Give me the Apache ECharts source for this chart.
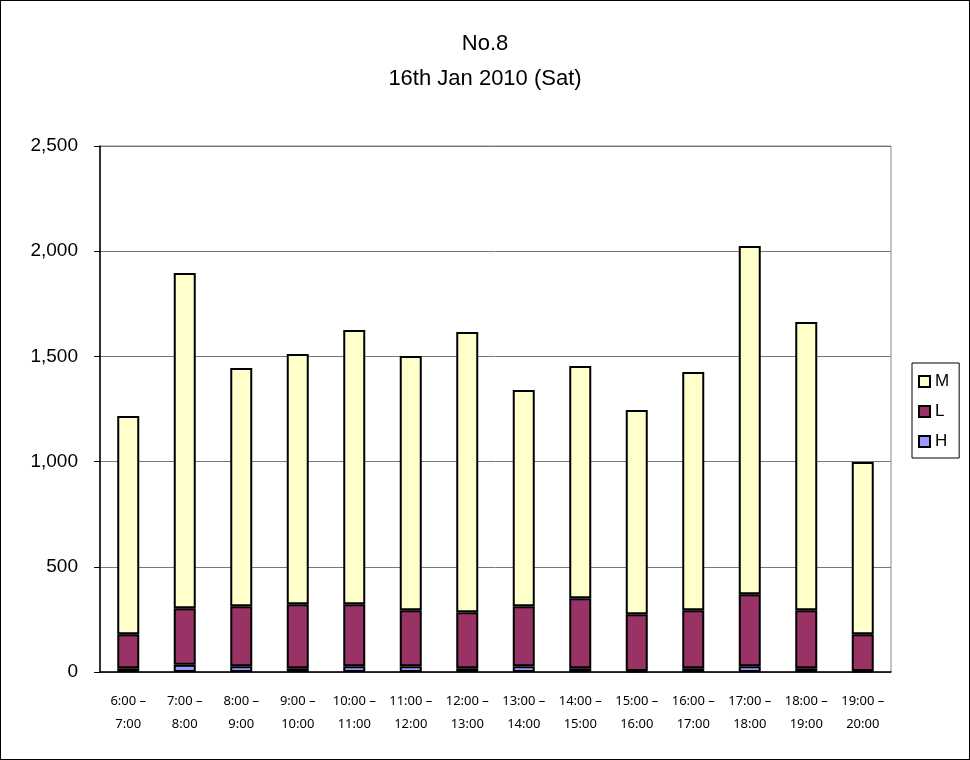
<!DOCTYPE html>
<html><head><meta charset="utf-8">
<script src="https://cdn.jsdelivr.net/npm/echarts@6/dist/echarts.min.js"></script>
<style>html,body{margin:0;padding:0;background:#fff}#c{width:968px;height:758px;border:1px solid #000}</style>
</head><body><div id="c"></div>
<script>
var categories = ['6:00 –\n7:00','7:00 –\n8:00','8:00 –\n9:00','9:00 –\n10:00','10:00 –\n11:00','11:00 –\n12:00','12:00 –\n13:00','13:00 –\n14:00','14:00 –\n15:00','15:00 –\n16:00','16:00 –\n17:00','17:00 –\n18:00','18:00 –\n19:00','19:00 –\n20:00'];
var H = [18,35,27,18,27,27,18,27,18,5,18,27,18,5];
var L = [162,268,285,304,295,266,266,285,332,269,275,342,275,175];
var M = [1037,1593,1133,1189,1303,1209,1332,1028,1104,971,1133,1656,1370,818];
var yTicks = [0,500,1000,1500,2000,2500];

var font = '"Liberation Sans", Arial, sans-serif';
var chart = echarts.init(document.getElementById('c'));
function ser(name, data, color){
  return {name:name, type:'bar', stack:'t', data:data, barWidth:22,
    itemStyle:{color:color, borderColor:'#000', borderWidth:2}};
}
chart.setOption({
  animation:false,
  backgroundColor:'#fff',
  title:{text:'No.8\n16th Jan 2010 (Sat)', left:'center', top:20,
    textStyle:{fontFamily:font, fontSize:22, fontWeight:'normal', color:'#000', lineHeight:35}},
  legend:{data:['M','L','H'], orient:'vertical', left:911, top:362,
    itemWidth:11, itemHeight:11, itemGap:13, icon:'rect',
    borderColor:'#000', borderWidth:1, padding:[10,10,8,6],
    textStyle:{fontFamily:font, fontSize:17, color:'#000'}},
  grid:{left:99, right:78, top:145, bottom:87, show:true, borderColor:'#888', borderWidth:1, backgroundColor:'#fff'},
  xAxis:{type:'category', data:categories,
    axisLine:{lineStyle:{color:'#000', width:1.5}},
    axisTick:{inside:true, length:5, lineStyle:{color:'#555'}},
    axisLabel:{fontFamily:'"Liberation Sans Narrow", "Noto Sans", sans-serif', fontSize:13, color:'#000', lineHeight:23, margin:18, interval:0}},
  yAxis:{type:'value', min:yTicks[0], max:yTicks[yTicks.length-1], interval:500,
    axisLine:{show:true, lineStyle:{color:'#000', width:1.5}},
    axisTick:{show:true, length:6, lineStyle:{color:'#000'}},
    splitLine:{lineStyle:{color:'#777', width:1}},
    axisLabel:{fontFamily:font, fontSize:19, color:'#000', margin:22,
      formatter:function(v){return v.toLocaleString('en-US');}}},
  series:[ser('H',H,'#9999FF'), ser('L',L,'#993366'), ser('M',M,'#FFFFCC')]
});
</script></body></html>
